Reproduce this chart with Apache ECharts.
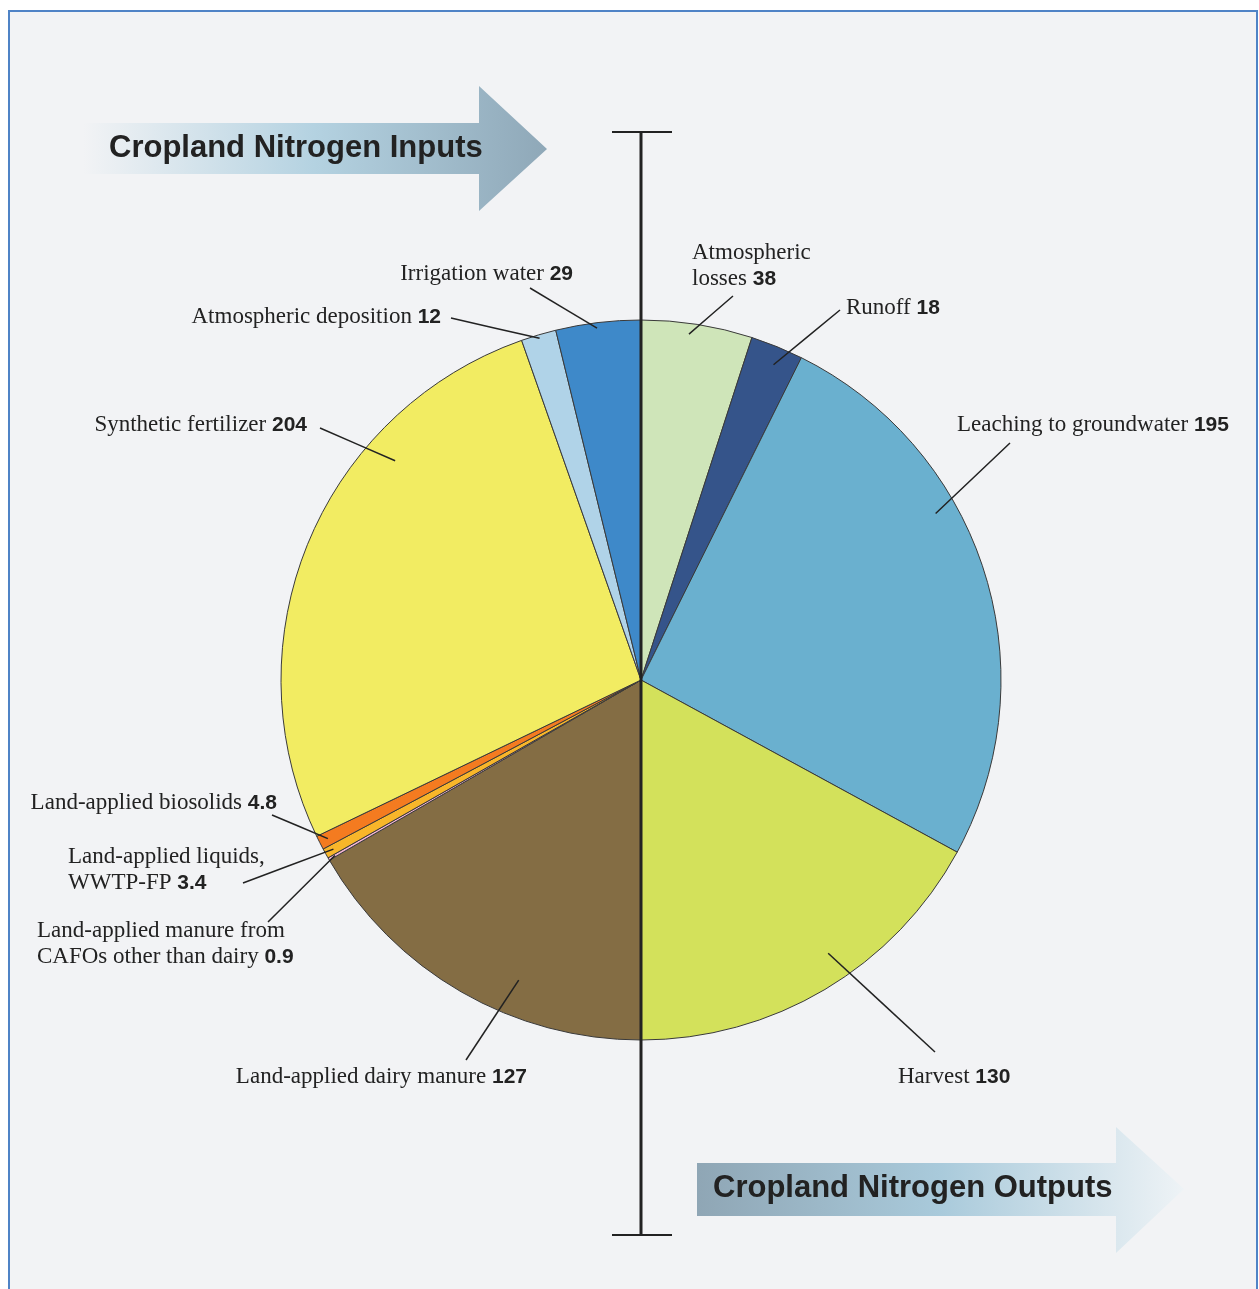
<!DOCTYPE html>
<html>
<head>
<meta charset="utf-8">
<script src="https://cdn.jsdelivr.net/npm/echarts@6/dist/echarts.min.js"></script>
<style>
  html, body { margin: 0; padding: 0; background: #fff; }
  #chart { width: 1259px; height: 1289px; }
</style>
</head>
<body>
<div id="chart"></div>
<script>
// slices clockwise from 12 o'clock: outputs fill the right half, inputs the left half
const categories = [
  "Atmospheric\nlosses",
  "Runoff",
  "Leaching to groundwater",
  "Harvest",
  "Land-applied dairy manure",
  "Land-applied manure from\nCAFOs other than dairy",
  "Land-applied liquids,\nWWTP-FP",
  "Land-applied biosolids",
  "Synthetic fertilizer",
  "Atmospheric deposition",
  "Irrigation water"
];
const values = [38, 18, 195, 130, 127, 0.9, 3.4, 4.8, 204, 12, 29];
const sliceColors = [
  "#cfe5b9", "#35548a", "#6ab0cf", "#d3e15b", "#846d44", "#f3b5d3",
  "#f8b62a", "#f47b20", "#f2ec62", "#b0d3e8", "#3e89c9"
];

const CX = 641, CY = 680, R = 360;

// where each label sits, where its leader ends, and where the leader starts
// inside the slice (at = share of the slice's sweep, r = share of radius)
const labelPlaces = [
  { x: 692, y: 266, align: "left",  end: [733, 296],  at: 0.44, r: 0.97 },
  { x: 846, y: 308, align: "left",  end: [840, 310],  at: 0.57, r: 0.95 },
  { x: 957, y: 425, align: "left",  end: [1010, 443], at: 0.37, r: 0.94 },
  { x: 898, y: 1077, align: "left", end: [935, 1052], at: 0.44, r: 0.92 },
  { x: 527, y: 1077, align: "right", end: [466, 1060], at: 0.37, r: 0.90 },
  { x: 37,  y: 944, align: "left",  end: [268, 922],  at: 0.5, r: 0.98 },
  { x: 68,  y: 870, align: "left",  end: [243, 883],  at: 0.5, r: 0.975 },
  { x: 277, y: 803, align: "right", end: [272, 815],  at: 0.5, r: 0.975 },
  { x: 307, y: 425, align: "right", end: [320, 428],  at: 0.70, r: 0.915 },
  { x: 441, y: 317, align: "right", end: [451, 318],  at: 0.5, r: 0.99 },
  { x: 573, y: 274, align: "right", end: [530, 288],  at: 0.48, r: 0.985 }
];

const total = values.reduce((a, b) => a + b, 0);
const startShare = values.map((v, i) => values.slice(0, i).reduce((a, b) => a + b, 0));

function leaderStart(i) {
  const p = labelPlaces[i];
  const a = (startShare[i] + p.at * values[i]) / total * Math.PI * 2;
  return [CX + p.r * R * Math.sin(a), CY - p.r * R * Math.cos(a)];
}

const chart = echarts.init(document.getElementById("chart"));

const serif = "'Liberation Serif', 'Times New Roman', serif";
const sans = "'Liberation Sans', Arial, sans-serif";
const titleFont = "bold 31px 'Liberation Sans', Arial, sans-serif";

const pieData = categories.map((name, i) => ({ name: name, value: values[i] }));

const option = {
  animation: false,
  backgroundColor: "#ffffff",
  graphic: [
    {
      type: "rect",
      z: 0,
      shape: { x: 9, y: 11, width: 1248, height: 1300 },
      style: { fill: "#f2f3f5", stroke: "#4f83c6", lineWidth: 2 }
    },
    {
      type: "polygon",
      z: 1,
      shape: { points: [[83, 123], [479, 123], [479, 86], [547, 149], [479, 211], [479, 174], [83, 174]] },
      style: {
        fill: new echarts.graphic.LinearGradient(0, 0, 1, 0, [
          { offset: 0, color: "#f2f3f5" },
          { offset: 0.5, color: "#b4d2e1" },
          { offset: 1, color: "#8fa8b8" }
        ])
      }
    },
    {
      type: "polygon",
      z: 1,
      shape: { points: [[697, 1163], [1116, 1163], [1116, 1127], [1184, 1189], [1116, 1253], [1116, 1216], [697, 1216]] },
      style: {
        fill: new echarts.graphic.LinearGradient(0, 0, 1, 0, [
          { offset: 0, color: "#8fa6b5" },
          { offset: 0.5, color: "#a9cadb" },
          { offset: 1, color: "#eef3f6" }
        ])
      }
    },
    {
      type: "text",
      z: 2,
      x: 109,
      y: 148,
      style: { text: "Cropland Nitrogen Inputs", font: titleFont, fill: "#222", verticalAlign: "middle" }
    },
    {
      type: "text",
      z: 2,
      x: 713,
      y: 1188,
      style: { text: "Cropland Nitrogen Outputs", font: titleFont, fill: "#222", verticalAlign: "middle" }
    },
    // divider between inputs and outputs
    {
      type: "line",
      z: 100,
      shape: { x1: 641, y1: 132, x2: 641, y2: 1235 },
      style: { stroke: "#222", lineWidth: 3 }
    },
    {
      type: "line",
      z: 100,
      shape: { x1: 612, y1: 132, x2: 672, y2: 132 },
      style: { stroke: "#222", lineWidth: 2 }
    },
    {
      type: "line",
      z: 100,
      shape: { x1: 612, y1: 1235, x2: 672, y2: 1235 },
      style: { stroke: "#222", lineWidth: 2 }
    }
  ],
  series: [
    {
      // the coloured slices
      type: "pie",
      z: 2,
      center: [CX, CY],
      radius: R,
      startAngle: 90,
      clockwise: true,
      emphasis: { disabled: true },
      data: pieData.map((d, i) => ({ ...d, itemStyle: { color: sliceColors[i] } })),
      itemStyle: { borderColor: "#3a3a3a", borderWidth: 1 },
      label: { show: false },
      labelLine: { show: false }
    },
    {
      // same slices, see-through, carrying labels and leaders above the colours
      type: "pie",
      z: 3,
      silent: true,
      center: [CX, CY],
      radius: R,
      startAngle: 90,
      clockwise: true,
      avoidLabelOverlap: false,
      emphasis: { disabled: true },
      data: pieData,
      itemStyle: { color: "rgba(0,0,0,0)", borderWidth: 0 },
      label: {
        show: true,
        position: "outside",
        overflow: "none",
        formatter: (p) => {
          const lines = p.name.split("\n");
          const last = lines.pop();
          return lines.map((l) => "{n|" + l + "}")
            .concat("{n|" + last + " }{v|" + p.value + "}")
            .join("\n");
        },
        rich: {
          n: { fontFamily: serif, fontSize: 23, color: "#222", lineHeight: 26 },
          v: { fontFamily: sans, fontWeight: "bold", fontSize: 21, color: "#222", lineHeight: 26 }
        }
      },
      labelLine: {
        show: true,
        length: 10,
        length2: 10,
        lineStyle: { color: "#222", width: 1.5 }
      },
      labelLayout: (params) => {
        const i = params.dataIndex;
        const p = labelPlaces[i];
        const s = leaderStart(i);
        return {
          x: p.x,
          y: p.y,
          align: p.align,
          verticalAlign: "middle",
          labelLinePoints: [s, [(s[0] + p.end[0]) / 2, (s[1] + p.end[1]) / 2], p.end]
        };
      }
    }
  ]
};

chart.setOption(option);
</script>
</body>
</html>
